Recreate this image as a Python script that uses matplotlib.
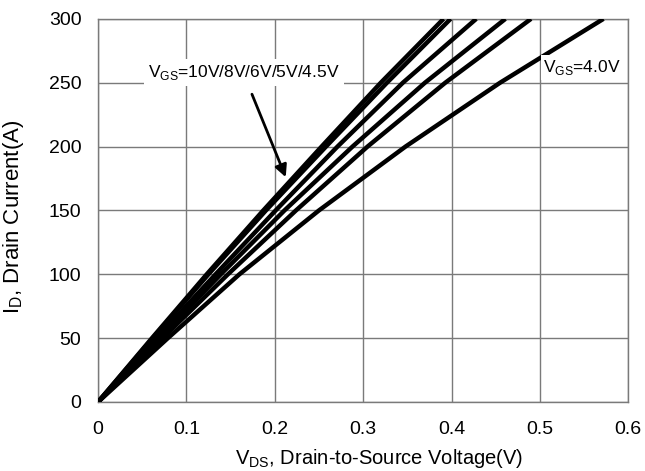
import matplotlib
matplotlib.use('Agg')
from matplotlib import pyplot as plt

plt.rcParams['font.family'] = ['Liberation Sans', 'DejaVu Sans']

# Drain current levels (A) and the V_DS (V) each curve reaches them at
currents = [0, 50, 100, 150, 200, 250, 300]
vds_10v = [0, 0.061, 0.123, 0.187, 0.253, 0.320, 0.391]
vds_8v = [0, 0.062, 0.125, 0.190, 0.258, 0.327, 0.399]
vds_6v = [0, 0.066, 0.133, 0.201, 0.271, 0.345, 0.428]
vds_5v = [0, 0.069, 0.139, 0.211, 0.288, 0.370, 0.461]
vds_45v = [0, 0.073, 0.147, 0.224, 0.305, 0.393, 0.490]
vds_4v = [0, 0.079, 0.160, 0.250, 0.348, 0.455, 0.572]

x_ticks = [0, 0.1, 0.2, 0.3, 0.4, 0.5, 0.6]
x_labels = ['0', '0.1', '0.2', '0.3', '0.4', '0.5', '0.6']
y_ticks = [0, 50, 100, 150, 200, 250, 300]

fig = plt.figure(figsize=(6.45, 4.71), dpi=100)
ax = fig.add_axes([0.152, 0.1465, 0.822, 0.8135])

for v in [vds_10v, vds_8v, vds_6v, vds_5v, vds_45v, vds_4v]:
    ax.plot(v, currents, color='black', lw=3.2, solid_joinstyle='round',
            solid_capstyle='butt', zorder=3)

ax.set_xlim(0, 0.6)
ax.set_ylim(0, 300)
ax.set_xticks(x_ticks)
ax.set_xticklabels(x_labels)
ax.set_yticks(y_ticks)
ax.grid(True, color='#7a7a7a', lw=1.0)
ax.set_axisbelow(True)
for s in ax.spines.values():
    s.set_color('#7a7a7a')
    s.set_linewidth(1.0)
ax.tick_params(axis='both', length=0, labelsize=14)
ax.tick_params(axis='x', pad=14)
ax.tick_params(axis='y', pad=12)

ax.set_xlabel('V$_\\mathregular{DS}$, Drain-to-Source Voltage(V)', fontsize=14.5)
ax.set_ylabel('I$_\\mathregular{D}$, Drain Current(A)', fontsize=16)
ax.xaxis.set_label_coords(0.53, -0.118)
ax.yaxis.set_label_coords(-0.135, 0.483)

ax.text(0.165, 258, 'V$_\\mathregular{GS}$=10V/8V/6V/5V/4.5V', fontsize=12.5,
        ha='center', va='center', zorder=4,
        bbox=dict(facecolor='white', edgecolor='none', pad=3))
ax.annotate('', xy=(0.2136, 174), xytext=(0.173, 243), zorder=4,
            arrowprops=dict(arrowstyle='-|>', color='black', lw=2,
                            mutation_scale=18))
ax.text(0.504, 262, 'V$_\\mathregular{GS}$=4.0V', fontsize=12.5,
        ha='left', va='center', zorder=4,
        bbox=dict(facecolor='white', edgecolor='none', pad=2))

fig.savefig('out.png', dpi=100)
